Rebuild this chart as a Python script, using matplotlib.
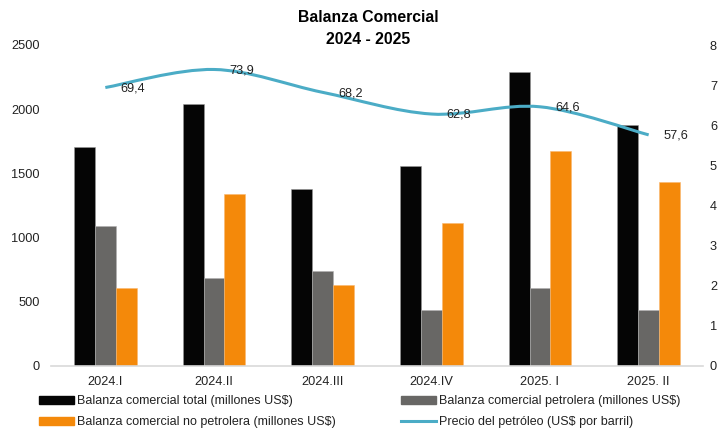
import numpy as np
import matplotlib
matplotlib.use('Agg')
import matplotlib.pyplot as plt
from matplotlib.path import Path
from matplotlib.patches import PathPatch
from matplotlib.lines import Line2D
from matplotlib.ticker import FuncFormatter

plt.rcParams['font.family'] = ['Liberation Sans', 'DejaVu Sans']

trimestres = ['2024.I', '2024.II', '2024.III', '2024.IV', '2025. I', '2025. II']
total = [1705, 2037, 1375, 1560, 2292, 1875]
petrolera = [1091, 682, 740, 440, 607, 435]
no_petrolera = [607, 1341, 630, 1112, 1677, 1432]
precio = [69.4, 73.9, 68.2, 62.8, 64.6, 57.6]

c_total = '#050505'
c_petro = '#686765'
c_nopetro = '#F4890A'
c_precio = '#4BACC6'

fig = plt.figure(figsize=(7.2, 4.28), dpi=100)
ax = fig.add_axes([51 / 720, 62 / 428, 652 / 720, 321 / 428])

x = np.arange(len(trimestres))
w = 0.193
ax.bar(x - w, total, w, color=c_total, edgecolor='#9a9a9a', linewidth=0.4)
ax.bar(x, petrolera, w, color=c_petro, edgecolor='#b0b0b0', linewidth=0.4)
ax.bar(x + w, no_petrolera, w, color=c_nopetro, edgecolor='#f9b870', linewidth=0.4)

ax.set_xlim(-0.5, len(trimestres) - 0.5)
ax.set_ylim(0, 2500)
ax.set_yticks(range(0, 2501, 500))
ax.set_xticks(x)
ax.set_xticklabels(trimestres)
for s in ['top', 'right', 'left']:
    ax.spines[s].set_visible(False)
ax.spines['bottom'].set_color('#d9d9d9')
ax.spines['bottom'].set_linewidth(1.2)
ax.tick_params(axis='y', length=0, pad=8, labelsize=9.2, labelcolor='#222222')
ax.tick_params(axis='x', length=0, pad=7, labelsize=9.2, labelcolor='#222222')

# eje secundario: precio (escala 0-80, etiquetas 0-8)
ax2 = ax.twinx()
ax2.set_ylim(0, 80)
ax2.set_yticks(range(0, 81, 10))
ax2.yaxis.set_major_formatter(FuncFormatter(lambda v, p: f'{int(v / 10)}'))
for s in ax2.spines.values():
    s.set_visible(False)
ax2.tick_params(axis='y', length=0, pad=5, labelsize=9.2, labelcolor='#222222')

# linea suavizada (Bezier tipo Excel)
pts = list(zip(x.astype(float), precio))
verts = [pts[0]]
codes = [Path.MOVETO]
n = len(pts)
for i in range(n - 1):
    p0 = pts[i - 1] if i > 0 else pts[i]
    p1 = pts[i]
    p2 = pts[i + 1]
    p3 = pts[i + 2] if i + 2 < n else pts[i + 1]
    c1 = (p1[0] + (p2[0] - p0[0]) / 6, p1[1] + (p2[1] - p0[1]) / 6)
    c2 = (p2[0] - (p3[0] - p1[0]) / 6, p2[1] - (p3[1] - p1[1]) / 6)
    verts += [c1, c2, p2]
    codes += [Path.CURVE4] * 3
ax2.add_patch(PathPatch(Path(verts, codes), facecolor='none',
                        edgecolor=c_precio, linewidth=2.2, capstyle='butt'))

for xi, v in zip(x, precio):
    ax2.annotate(f'{v:.1f}'.replace('.', ','), (xi, v), xytext=(11, -0.5),
                 textcoords='offset points', ha='left', va='center',
                 fontsize=9.2, color='#222222')

fig.text(368 / 720, 1 - 18 / 428, 'Balanza Comercial', ha='center', va='center',
         fontsize=11.3, fontweight='bold')
fig.text(368 / 720, 1 - 40 / 428, '2024 - 2025', ha='center', va='center',
         fontsize=11.3, fontweight='bold')

handles = [
    plt.Rectangle((0, 0), 1, 1, color=c_total),
    plt.Rectangle((0, 0), 1, 1, color=c_nopetro),
    plt.Rectangle((0, 0), 1, 1, color=c_petro),
    Line2D([0], [0], color=c_precio, linewidth=2.2),
]
labels = [
    'Balanza comercial total (millones US$)',
    'Balanza comercial no petrolera (millones US$)',
    'Balanza comercial petrolera (millones US$)',
    'Precio del petróleo (US$ por barril)',
]
fig.legend(handles, labels, ncol=2, loc='upper left',
           bbox_to_anchor=(28 / 720, 1 - 384 / 428), frameon=False,
           fontsize=9, handlelength=2.8, handleheight=0.6, handletextpad=0.25,
           columnspacing=5.15, labelspacing=0.72, labelcolor='#222222')

fig.savefig('out.png', dpi=100)
